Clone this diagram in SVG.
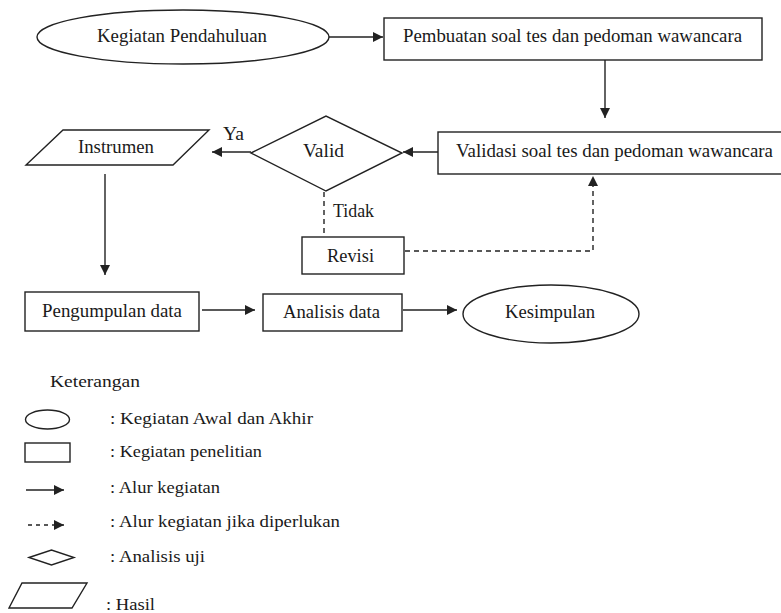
<svg xmlns="http://www.w3.org/2000/svg" width="781" height="613" viewBox="0 0 781 613">
<style>
.s{fill:#fff;stroke:#222;stroke-width:1.4}
.c{fill:none;stroke:#222;stroke-width:1.4}
.d{fill:none;stroke:#222;stroke-width:1.4;stroke-dasharray:5,4}
text{font-family:'Liberation Serif','Times New Roman','DejaVu Serif',serif;fill:#1a1a1a}
.t{font-size:19px}
.l{font-size:17px}
</style>
<defs>
<marker id="a" viewBox="0 0 10 10" refX="10" refY="5" markerWidth="10" markerHeight="10" markerUnits="userSpaceOnUse" orient="auto">
<path d="M0,0 L10,5 L0,10 Z" fill="#222"/>
</marker>
</defs>
<rect width="781" height="613" fill="#fff"/>
<g id="connectors">
<line class="c" x1="329" y1="37" x2="383" y2="37" marker-end="url(#a)"/>
<line class="c" x1="605" y1="60" x2="605" y2="118" marker-end="url(#a)"/>
<line class="c" x1="438" y1="152" x2="403" y2="152" marker-end="url(#a)"/>
<line class="c" x1="251" y1="152" x2="212" y2="152" marker-end="url(#a)"/>
<line class="c" x1="105" y1="174" x2="105" y2="275" marker-end="url(#a)"/>
<line class="c" x1="202" y1="310" x2="255" y2="310" marker-end="url(#a)"/>
<line class="c" x1="403" y1="310" x2="457" y2="310" marker-end="url(#a)"/>
<line class="d" x1="324" y1="192" x2="324" y2="237"/>
<polyline class="d" points="405,251 593,251 593,178"/>
<path d="M588,186 L593,176 L598,186 Z" fill="#222"/>
<text class="t" x="223" y="140" textLength="21" lengthAdjust="spacingAndGlyphs" font-family="Liberation Serif, serif">Ya</text>
<text class="t" x="333" y="217" textLength="41" lengthAdjust="spacingAndGlyphs" font-family="Liberation Serif, serif">Tidak</text>
</g>
<g id="n-pendahuluan">
<ellipse class="s" cx="183" cy="37" rx="146" ry="27"/>
<text class="t" x="182" y="42" text-anchor="middle" textLength="170" lengthAdjust="spacingAndGlyphs">Kegiatan Pendahuluan</text>
</g>
<g id="n-pembuatan">
<rect class="s" x="384" y="18" width="378" height="42"/>
<text class="t" x="572.5" y="42" text-anchor="middle" textLength="339" lengthAdjust="spacingAndGlyphs">Pembuatan soal tes dan pedoman wawancara</text>
</g>
<g id="n-validasi">
<rect class="s" x="438" y="132" width="345" height="42"/>
<text class="t" x="614.5" y="157" text-anchor="middle" textLength="317" lengthAdjust="spacingAndGlyphs">Validasi soal tes dan pedoman wawancara</text>
</g>
<g id="n-valid">
<polygon class="s" points="251,153 326,116 402,153 326,191"/>
<text class="t" x="323.5" y="157" text-anchor="middle" textLength="41" lengthAdjust="spacingAndGlyphs">Valid</text>
</g>
<g id="n-instrumen">
<polygon class="s" points="63,130 209,130 173,165 26,165"/>
<text class="t" x="116" y="153" text-anchor="middle" textLength="76" lengthAdjust="spacingAndGlyphs">Instrumen</text>
</g>
<g id="n-revisi">
<rect class="s" x="302" y="237" width="102" height="37"/>
<text class="t" x="350.5" y="262" text-anchor="middle" textLength="47" lengthAdjust="spacingAndGlyphs">Revisi</text>
</g>
<g id="n-pengumpulan">
<rect class="s" x="25" y="292" width="174" height="39"/>
<text class="t" x="112" y="317" text-anchor="middle" textLength="140" lengthAdjust="spacingAndGlyphs">Pengumpulan data</text>
</g>
<g id="n-analisis">
<rect class="s" x="263" y="294" width="139" height="37"/>
<text class="t" x="331.5" y="318" text-anchor="middle" textLength="97" lengthAdjust="spacingAndGlyphs">Analisis data</text>
</g>
<g id="n-kesimpulan">
<ellipse class="s" cx="551" cy="314" rx="88" ry="29"/>
<text class="t" x="550" y="318" text-anchor="middle" textLength="90" lengthAdjust="spacingAndGlyphs">Kesimpulan</text>
</g>
<g id="legend">
<text class="l" x="50" y="387" textLength="90" lengthAdjust="spacingAndGlyphs">Keterangan</text>
<ellipse class="s" cx="47.5" cy="419.5" rx="22" ry="9.5"/>
<text class="l" x="110" y="424" textLength="203" lengthAdjust="spacingAndGlyphs">: Kegiatan  Awal dan Akhir</text>
<rect class="s" x="25" y="443" width="45" height="19"/>
<text class="l" x="110" y="457" textLength="152" lengthAdjust="spacingAndGlyphs">: Kegiatan  penelitian</text>
<line class="c" x1="26" y1="490" x2="64" y2="490" marker-end="url(#a)"/>
<text class="l" x="110" y="493" textLength="110" lengthAdjust="spacingAndGlyphs">: Alur kegiatan</text>
<line class="c" x1="28" y1="525" x2="64" y2="525" stroke-dasharray="4,4" marker-end="url(#a)"/>
<text class="l" x="110" y="527" textLength="230" lengthAdjust="spacingAndGlyphs">: Alur kegiatan  jika diperlukan</text>
<polygon class="s" points="29,557.5 51.5,550 74,557.5 51.5,565"/>
<text class="l" x="110" y="562" textLength="95" lengthAdjust="spacingAndGlyphs">: Analisis uji</text>
<polygon class="s" points="22,583 87,583 72,608 9,608"/>
<text class="l" x="106" y="610" textLength="49" lengthAdjust="spacingAndGlyphs">: Hasil</text>
</g>
</svg>
